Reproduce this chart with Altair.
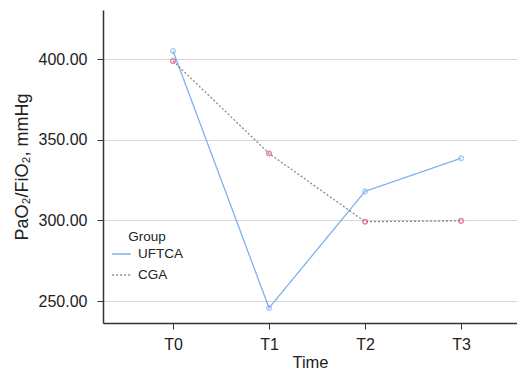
import altair as alt
import pandas as pd

times = ["T0", "T1", "T2", "T3"]
uftca = [405.0, 245.7, 318.0, 338.5]
cga = [398.8, 341.5, 299.2, 299.7]
groups = ["UFTCA", "CGA"]

rows = []
for t, v in zip(times, uftca):
    rows.append({"Time": t, "Value": v, "Group": "UFTCA"})
for t, v in zip(times, cga):
    rows.append({"Time": t, "Value": v, "Group": "CGA"})
df = pd.DataFrame(rows)

font = "Liberation Sans"

x = alt.X("Time:N", sort=times, title="Time",
          scale=alt.Scale(type="point", padding=0.656, align=0.556),
          axis=alt.Axis(labelAngle=0, labelFontSize=16, titleFontSize=16.5,
                        labelPadding=7, tickSize=6, titlePadding=2,
                        domainColor="#333333", tickColor="#333333",
                        domainWidth=1.5, labelColor="#222222",
                        titleColor="#222222", grid=False,
                        labelFont=font, titleFont=font, titleFontWeight="normal"))
y = alt.Y("Value:Q", title="PaO₂/FiO₂, mmHg",
          scale=alt.Scale(domain=[236.4, 430.4], nice=False, zero=False),
          axis=alt.Axis(values=[250, 300, 350, 400], format=".2f",
                        labelFontSize=16, titleFontSize=18, tickSize=6,
                        labelPadding=10, titlePadding=7,
                        domainColor="#333333", tickColor="#333333",
                        domainWidth=1.5, labelColor="#222222",
                        titleColor="#222222", gridColor="#d6d6d6",
                        labelFont=font, titleFont=font, titleFontWeight="normal"))

leg = dict(title="Group", orient="none", legendX=8, legendY=220,
           symbolType="stroke", symbolSize=350, symbolStrokeWidth=1.3,
           labelFontSize=13.5, titleFontSize=13.5, titleFontWeight="normal",
           labelFont=font, titleFont=font, titleAnchor="middle",
           labelColor="#222222", titleColor="#222222", labelOffset=6,
           rowPadding=4, titlePadding=0, fillColor="white")

lines = alt.Chart(df).mark_line(strokeWidth=1.3).encode(
    x=x, y=y,
    color=alt.Color("Group:N", scale=alt.Scale(domain=groups, range=["#7fb1ea", "#8a8a8a"]),
                    legend=alt.Legend(**leg)),
    strokeDash=alt.StrokeDash("Group:N", scale=alt.Scale(domain=groups, range=[[1, 0], [2, 2]]),
                              legend=alt.Legend(**leg)),
)

points = alt.Chart(df).mark_point(filled=False, size=22, strokeWidth=1.4).encode(
    x=x, y=y,
    stroke=alt.Stroke("Group:N", scale=alt.Scale(domain=groups, range=["#8ab8ee", "#d6506c"]),
                      legend=None),
)

chart = (lines + points).properties(
    width=414, height=313,
    autosize=alt.AutoSizeParams(type="none"),
    padding={"left": 95, "top": 2, "right": 0, "bottom": 48},
).configure_view(stroke=None).configure_axisX(grid=False)

chart.save("out.html", embed_options={"renderer": "svg", "actions": False})
